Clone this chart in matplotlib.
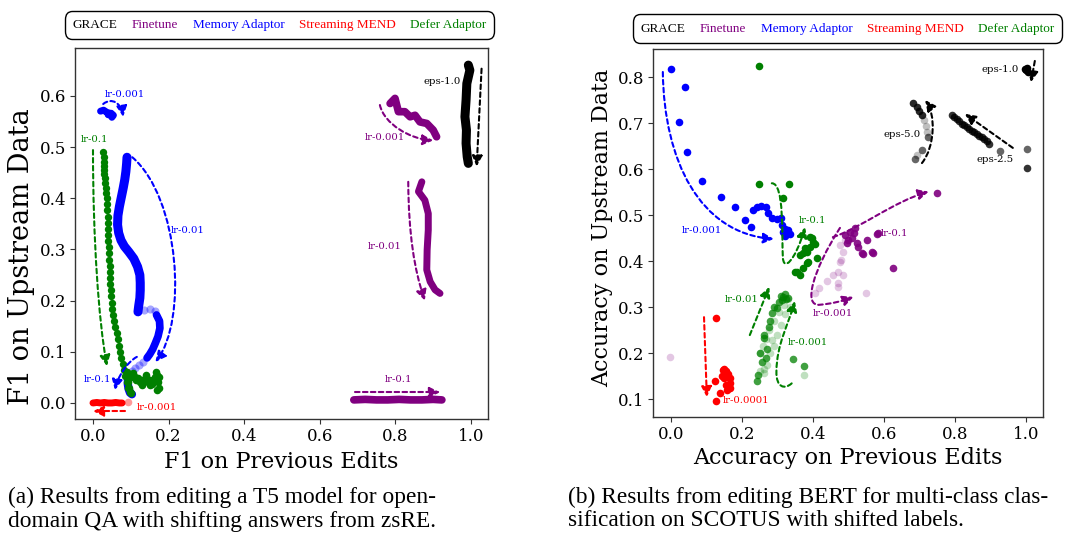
import matplotlib
matplotlib.use("Agg")
import matplotlib.pyplot as plt
from matplotlib.lines import Line2D
from matplotlib.patches import FancyArrowPatch
from matplotlib.path import Path

plt.rcParams['font.family'] = ['DejaVu Serif']

# ---------------- colours ----------------
C_GRACE, C_FT, C_MEM, C_MEND, C_DEF = 'black', '#800080', '#0000ff', '#ff0000', '#008000'
legend_labels = ['GRACE', 'Finetune', 'Memory Adaptor', 'Streaming MEND', 'Defer Adaptor']
legend_colors = [C_GRACE, C_FT, C_MEM, C_MEND, C_DEF]

# ================= (a) T5 / zsRE =================
# GRACE eps-1.0
a_grace_x = [0.993, 0.997, 0.989, 0.987, 0.984, 0.988, 0.987, 0.990, 0.993]
a_grace_y = [0.660, 0.650, 0.624, 0.592, 0.559, 0.533, 0.507, 0.481, 0.468]
# Finetune
a_ft001_x = [0.786, 0.799, 0.808, 0.825, 0.839, 0.852, 0.865, 0.883, 0.900, 0.909]
a_ft001_y = [0.585, 0.595, 0.569, 0.569, 0.559, 0.562, 0.549, 0.546, 0.533, 0.520]
a_ft01_x = [0.870, 0.861, 0.878, 0.887, 0.887, 0.884, 0.883, 0.892, 0.905, 0.918]
a_ft01_y = [0.432, 0.413, 0.396, 0.370, 0.338, 0.299, 0.260, 0.237, 0.221, 0.214]
a_ft1_x = [0.690, 0.720, 0.750, 0.780, 0.810, 0.840, 0.870, 0.900, 0.923]
a_ft1_y = [0.006, 0.007, 0.006, 0.006, 0.007, 0.006, 0.006, 0.007, 0.006]
# Memory Adaptor
a_mem001_x = [0.020, 0.028, 0.036, 0.044, 0.050, 0.054, 0.048, 0.040]
a_mem001_y = [0.570, 0.572, 0.568, 0.566, 0.558, 0.562, 0.566, 0.563]
a_mem01_upper_x = [0.090, 0.089, 0.087, 0.084, 0.080, 0.075, 0.070, 0.066, 0.065, 0.068, 0.074,
                   0.083, 0.095, 0.108, 0.118, 0.124, 0.125, 0.125, 0.124, 0.121, 0.119]
a_mem01_upper_y = [0.480, 0.468, 0.452, 0.436, 0.420, 0.402, 0.384, 0.366, 0.348, 0.332, 0.318,
                   0.306, 0.295, 0.282, 0.266, 0.250, 0.235, 0.220, 0.205, 0.190, 0.178]
a_mem01_lower_x = [0.168, 0.176, 0.177, 0.172, 0.165, 0.158, 0.150, 0.143]
a_mem01_lower_y = [0.172, 0.160, 0.146, 0.130, 0.117, 0.105, 0.095, 0.088]
a_mem01_faint_x = [0.135, 0.150, 0.163, 0.131, 0.121, 0.111, 0.103]
a_mem01_faint_y = [0.182, 0.183, 0.180, 0.080, 0.074, 0.068, 0.062]
a_mem1_x = [0.093, 0.092, 0.094, 0.098, 0.103]
a_mem1_y = [0.048, 0.038, 0.028, 0.020, 0.017]
# Streaming MEND
a_mend_x = [0.000, 0.010, 0.020, 0.030, 0.040, 0.050, 0.060, 0.070, 0.077]
a_mend_y = [0.000, 0.001, 0.000, 0.001, 0.000, 0.000, 0.001, 0.000, 0.000]
a_mend_faint_x = [0.093]
a_mend_faint_y = [0.002]
# Defer Adaptor
a_def1_x = [0.027, 0.028, 0.029, 0.029, 0.030, 0.030, 0.031, 0.033, 0.034, 0.035, 0.036, 0.037, 0.038, 0.039,
            0.039, 0.040, 0.040, 0.041, 0.042, 0.042, 0.043, 0.044, 0.045, 0.045, 0.046, 0.047, 0.048, 0.049,
            0.051, 0.053, 0.056, 0.059, 0.063, 0.066, 0.069, 0.072, 0.075, 0.079, 0.082, 0.085, 0.089, 0.092]
a_def1_y = [0.490, 0.480, 0.470, 0.462, 0.455, 0.448, 0.440, 0.430, 0.420, 0.410, 0.400, 0.388, 0.376, 0.364,
            0.352, 0.340, 0.328, 0.316, 0.304, 0.292, 0.280, 0.268, 0.256, 0.244, 0.232, 0.220, 0.208, 0.196,
            0.184, 0.172, 0.160, 0.148, 0.136, 0.124, 0.112, 0.100, 0.088, 0.076, 0.064, 0.052, 0.040, 0.030]
a_def01_x = [0.090, 0.095, 0.100, 0.105, 0.110, 0.115, 0.120, 0.125, 0.130, 0.135, 0.140, 0.145, 0.150, 0.155,
             0.160, 0.165, 0.170, 0.172, 0.175, 0.170, 0.095, 0.098, 0.092, 0.100, 0.130, 0.140, 0.150, 0.175, 0.168]
a_def01_y = [0.060, 0.055, 0.050, 0.058, 0.050, 0.045, 0.048, 0.040, 0.045, 0.042, 0.050, 0.040, 0.045, 0.038,
             0.044, 0.050, 0.055, 0.040, 0.030, 0.025, 0.030, 0.022, 0.040, 0.020, 0.035, 0.055, 0.035, 0.050, 0.060]

# ================= (b) BERT / SCOTUS =================
b_eps1_x = [1.000, 1.003, 1.005, 0.998]
b_eps1_y = [0.815, 0.820, 0.812, 0.818]
b_eps5_dark_x = [0.683, 0.692, 0.700, 0.706]
b_eps5_dark_y = [0.743, 0.735, 0.727, 0.717]
b_eps5_mid_x = [0.725, 0.706, 0.687]
b_eps5_mid_y = [0.670, 0.641, 0.621]
b_eps5_faint_x = [0.713, 0.718, 0.720, 0.692]
b_eps5_faint_y = [0.707, 0.693, 0.681, 0.630]
b_eps25_x = [0.791, 0.798, 0.805, 0.812, 0.819, 0.826, 0.833, 0.840, 0.847, 0.854, 0.861, 0.868,
             0.875, 0.882, 0.889, 0.897, 1.002]
b_eps25_y = [0.717, 0.713, 0.708, 0.704, 0.699, 0.695, 0.691, 0.687, 0.683, 0.680, 0.676, 0.672,
             0.669, 0.665, 0.662, 0.654, 0.603]
b_eps25_mid_x = [0.927, 1.002]
b_eps25_mid_y = [0.640, 0.643]

b_mem_x = [0.000, 0.039, 0.023, 0.045, 0.087, 0.141, 0.180, 0.208, 0.225, 0.231, 0.242, 0.253,
           0.268, 0.273, 0.284, 0.298, 0.310, 0.313, 0.316, 0.327, 0.321, 0.330, 0.320, 0.335]
b_mem_y = [0.817, 0.778, 0.702, 0.637, 0.574, 0.539, 0.517, 0.489, 0.474, 0.511, 0.518, 0.520,
           0.518, 0.504, 0.493, 0.491, 0.493, 0.478, 0.463, 0.461, 0.454, 0.467, 0.470, 0.458]

b_def1_x = [0.248, 0.248, 0.332, 0.316, 0.396, 0.406, 0.392, 0.382, 0.373, 0.363, 0.410, 0.382,
            0.373, 0.354, 0.363, 0.387, 0.392, 0.400, 0.349, 0.378]
b_def1_y = [0.824, 0.567, 0.567, 0.537, 0.449, 0.438, 0.431, 0.420, 0.417, 0.413, 0.406, 0.395,
            0.384, 0.377, 0.370, 0.398, 0.452, 0.442, 0.376, 0.428]
b_def01_x = [0.242, 0.245, 0.255, 0.262, 0.268, 0.270, 0.276, 0.280, 0.284, 0.290, 0.298, 0.305,
             0.313, 0.316, 0.320, 0.325, 0.310, 0.330, 0.344, 0.375, 0.262, 0.250]
b_def01_y = [0.139, 0.152, 0.180, 0.233, 0.189, 0.209, 0.256, 0.270, 0.287, 0.300, 0.298, 0.310,
             0.315, 0.322, 0.328, 0.318, 0.325, 0.320, 0.187, 0.172, 0.240, 0.200]
b_def001_x = [0.250, 0.262, 0.270, 0.280, 0.290, 0.300, 0.310, 0.322, 0.335, 0.268, 0.258, 0.275,
              0.290, 0.305, 0.318, 0.330, 0.375, 0.262, 0.250, 0.285]
b_def001_y = [0.160, 0.157, 0.175, 0.200, 0.215, 0.240, 0.260, 0.285, 0.300, 0.230, 0.215, 0.250,
              0.270, 0.290, 0.305, 0.318, 0.152, 0.165, 0.200, 0.228]

b_mend_x = [0.127, 0.146, 0.150, 0.155, 0.160, 0.161, 0.166, 0.150, 0.155, 0.165, 0.145, 0.124,
            0.138, 0.127, 0.158, 0.165]
b_mend_y = [0.276, 0.163, 0.165, 0.160, 0.155, 0.148, 0.135, 0.145, 0.130, 0.125, 0.150, 0.140,
            0.113, 0.096, 0.120, 0.145]

b_ft1_x = [0.518, 0.504, 0.490, 0.496, 0.524, 0.527, 0.552, 0.538, 0.566, 0.625, 0.580, 0.510,
           0.500, 0.515, 0.541, 0.569, 0.749, 0.583]
b_ft1_y = [0.472, 0.463, 0.457, 0.439, 0.439, 0.431, 0.446, 0.417, 0.420, 0.385, 0.459, 0.450,
           0.445, 0.460, 0.416, 0.418, 0.548, 0.461]
b_ft001_x = [0.476, 0.485, 0.476, 0.470, 0.457, 0.485, 0.470, 0.439, 0.417, 0.406, 0.470, 0.549,
             -0.003, 0.480, 0.490]
b_ft001_y = [0.435, 0.420, 0.398, 0.376, 0.370, 0.370, 0.352, 0.357, 0.341, 0.330, 0.344, 0.330,
             0.191, 0.402, 0.445]

# annotation labels: (text, colour, x, y)
a_labels = [('lr-0.001', C_MEM, 0.085, 0.602), ('lr-0.1', C_DEF, 0.003, 0.515),
            ('lr-0.01', C_MEM, 0.250, 0.336), ('lr-0.1', C_MEM, 0.013, 0.045),
            ('lr-0.001', C_MEND, 0.170, -0.008), ('lr-0.001', C_FT, 0.772, 0.518),
            ('lr-0.01', C_FT, 0.772, 0.305), ('lr-0.1', C_FT, 0.807, 0.045),
            ('eps-1.0', C_GRACE, 0.923, 0.627)]
b_labels = [('lr-0.001', C_MEM, 0.087, 0.467), ('lr-0.1', C_DEF, 0.400, 0.489),
            ('lr-0.01', C_DEF, 0.200, 0.317), ('lr-0.001', C_DEF, 0.386, 0.222),
            ('lr-0.0001', C_MEND, 0.211, 0.096), ('lr-0.001', C_FT, 0.457, 0.287),
            ('lr-0.1', C_FT, 0.630, 0.460), ('eps-1.0', C_GRACE, 0.927, 0.817),
            ('eps-5.0', C_GRACE, 0.650, 0.676), ('eps-2.5', C_GRACE, 0.913, 0.620)]

# dashed arrows: (colour, control points)  2 pts = straight, 4 = cubic, 7 = two cubics
a_arrows = [(C_MEM, [(0.027, 0.584), (0.050, 0.598), (0.075, 0.585), (0.080, 0.559)]),
            (C_DEF, [(0.000, 0.494), (0.000, 0.320), (0.015, 0.160), (0.037, 0.072)]),
            (C_MEM, [(0.104, 0.480), (0.230, 0.400), (0.250, 0.160), (0.165, 0.080)]),
            (C_MEM, [(0.116, 0.090), (0.090, 0.080), (0.065, 0.050), (0.058, 0.025)]),
            (C_MEND, [(0.085, -0.016), (0.000, -0.016)]),
            (C_FT, [(0.759, 0.582), (0.770, 0.545), (0.840, 0.515), (0.900, 0.513)]),
            (C_FT, [(0.834, 0.432), (0.835, 0.330), (0.850, 0.260), (0.878, 0.200)]),
            (C_FT, [(0.693, 0.021), (0.918, 0.021)]),
            (C_GRACE, [(1.028, 0.653), (1.015, 0.462)])]
b_arrows = [(C_MEM, [(-0.023, 0.811), (-0.020, 0.620), (0.080, 0.460), (0.290, 0.448)]),
            (C_DEF, [(0.284, 0.569), (0.320, 0.570), (0.312, 0.450), (0.315, 0.410),
                     (0.316, 0.375), (0.350, 0.400), (0.378, 0.474)]),
            (C_DEF, [(0.222, 0.239), (0.277, 0.344)]),
            (C_DEF, [(0.340, 0.134), (0.320, 0.120), (0.296, 0.125), (0.297, 0.160),
                     (0.298, 0.220), (0.330, 0.260), (0.349, 0.313)]),
            (C_MEND, [(0.093, 0.278), (0.101, 0.104)]),
            (C_FT, [(0.476, 0.472), (0.400, 0.380), (0.370, 0.300), (0.420, 0.305),
                    (0.450, 0.307), (0.480, 0.312), (0.514, 0.322)]),
            (C_FT, [(0.456, 0.452), (0.530, 0.470), (0.630, 0.530), (0.726, 0.551)]),
            (C_GRACE, [(1.025, 0.835), (1.014, 0.789)]),
            (C_GRACE, [(0.707, 0.613), (0.745, 0.650), (0.745, 0.720), (0.716, 0.750)]),
            (C_GRACE, [(0.963, 0.646), (0.828, 0.720)])]

# ---------------- figure ----------------
W, H = 1071, 533
fig = plt.figure(figsize=(W / 100, H / 100), dpi=100)
axL = fig.add_axes([75 / W, (H - 419) / H, 413 / W, 371 / H])
axR = fig.add_axes([653 / W, (H - 417) / H, 390 / W, 368 / H])


def trail(ax, xs, ys, color, lw, alpha=1.0):
    ax.plot(xs, ys, '-', color=color, lw=lw, alpha=alpha, solid_capstyle='round',
            solid_joinstyle='round', zorder=2)


def dots(ax, xs, ys, color, alpha=1.0, s=26):
    ax.scatter(xs, ys, s=s, color=color, alpha=alpha, linewidths=0, zorder=2)


def dashed_arrow(ax, color, pts):
    if len(pts) == 2:
        codes = [Path.MOVETO, Path.LINETO]
    else:
        codes = [Path.MOVETO] + [Path.CURVE4] * (len(pts) - 1)
    patch = FancyArrowPatch(path=Path(pts, codes), arrowstyle='-|>,head_length=0.45,head_width=0.22',
                            mutation_scale=14, color=color, lw=1.5, linestyle=(0, (2.2, 1.6)),
                            transform=ax.transData, zorder=3)
    ax.add_patch(patch)


# ---- panel (a)
trail(axL, a_grace_x, a_grace_y, C_GRACE, 6.5)
trail(axL, a_ft001_x, a_ft001_y, C_FT, 5.5)
trail(axL, a_ft01_x, a_ft01_y, C_FT, 5.0)
trail(axL, a_ft1_x, a_ft1_y, C_FT, 5.5)
trail(axL, a_mem001_x, a_mem001_y, C_MEM, 5.0)
trail(axL, a_mem01_upper_x, a_mem01_upper_y, C_MEM, 6.5)
trail(axL, a_mem01_lower_x, a_mem01_lower_y, C_MEM, 5.5)
dots(axL, a_mem01_faint_x, a_mem01_faint_y, C_MEM, alpha=0.35, s=34)
trail(axL, a_mem1_x, a_mem1_y, C_MEM, 6.0)
trail(axL, a_mend_x, a_mend_y, C_MEND, 5.0)
dots(axL, a_mend_faint_x, a_mend_faint_y, C_MEND, alpha=0.4, s=30)
dots(axL, a_def1_x, a_def1_y, C_DEF, s=28)
dots(axL, a_def01_x, a_def01_y, C_DEF, s=30)

for txt, c, x, y in a_labels:
    axL.text(x, y, txt, color=c, fontsize=7.3, ha='center', va='center', zorder=4)
for c, pts in a_arrows:
    dashed_arrow(axL, c, pts)

axL.set_xlim(-0.0476, 1.045)
axL.set_ylim(-0.0313, 0.6934)
axL.set_xticks([0.0, 0.2, 0.4, 0.6, 0.8, 1.0])
axL.set_yticks([0.0, 0.1, 0.2, 0.3, 0.4, 0.5, 0.6])

# ---- panel (b)
dots(axR, b_ft001_x, b_ft001_y, C_FT, alpha=0.22, s=30)
dots(axR, b_ft1_x, b_ft1_y, C_FT, alpha=0.9, s=30)
dots(axR, b_def001_x, b_def001_y, C_DEF, alpha=0.25, s=30)
dots(axR, b_def01_x, b_def01_y, C_DEF, alpha=0.75, s=30)
dots(axR, b_def1_x, b_def1_y, C_DEF, alpha=1.0, s=30)
dots(axR, b_mem_x, b_mem_y, C_MEM, s=30)
dots(axR, b_mend_x, b_mend_y, C_MEND, s=30)
dots(axR, b_eps1_x, b_eps1_y, C_GRACE, s=30)
dots(axR, b_eps5_dark_x, b_eps5_dark_y, C_GRACE, alpha=0.85, s=30)
dots(axR, b_eps5_mid_x, b_eps5_mid_y, C_GRACE, alpha=0.6, s=30)
dots(axR, b_eps5_faint_x, b_eps5_faint_y, C_GRACE, alpha=0.25, s=30)
dots(axR, b_eps25_x, b_eps25_y, C_GRACE, alpha=0.8, s=30)
dots(axR, b_eps25_mid_x, b_eps25_mid_y, C_GRACE, alpha=0.6, s=30)

for txt, c, x, y in b_labels:
    axR.text(x, y, txt, color=c, fontsize=7.3, ha='center', va='center', zorder=4)
for c, pts in b_arrows:
    dashed_arrow(axR, c, pts)

axR.set_xlim(-0.0507, 1.048)
axR.set_ylim(0.0609, 0.861)
axR.set_xticks([0.0, 0.2, 0.4, 0.6, 0.8, 1.0])
axR.set_yticks([0.1, 0.2, 0.3, 0.4, 0.5, 0.6, 0.7, 0.8])

for ax in (axL, axR):
    for sp in ax.spines.values():
        sp.set_color('#333333')
        sp.set_linewidth(1.0)
    ax.tick_params(labelsize=12, length=3.5, width=0.8, color='#333333', pad=3)
    ax.xaxis.set_major_formatter(matplotlib.ticker.FormatStrFormatter('%.1f'))
    ax.yaxis.set_major_formatter(matplotlib.ticker.FormatStrFormatter('%.1f'))

# axis titles
fig.text(22 / W, 1 - 257 / H, 'F1 on Upstream Data', rotation=90, ha='center', va='center', fontsize=19.5)
fig.text(281 / W, 1 - 462 / H, 'F1 on Previous Edits', ha='center', va='center', fontsize=16)
fig.text(602 / W, 1 - 228 / H, 'Accuracy on Upstream Data', rotation=90, ha='center', va='center', fontsize=16)
fig.text(848 / W, 1 - 458 / H, 'Accuracy on Previous Edits', ha='center', va='center', fontsize=16)

# legends
handles = [Line2D([], [], linestyle='none') for _ in legend_labels]
for cx, cy in ((279.5, 25.0), (847.5, 28.5)):
    leg = fig.legend(handles, legend_labels, loc='center', bbox_to_anchor=(cx / W, 1 - cy / H),
                     ncol=5, handlelength=0, handletextpad=0, columnspacing=1.1, borderpad=0.6,
                     frameon=True, fancybox=True, framealpha=1,
                     prop={'family': 'Liberation Serif', 'size': 9.5}, labelcolor=legend_colors)
    fr = leg.get_frame()
    fr.set_edgecolor('black')
    fr.set_linewidth(1.0)
    fr.set_boxstyle('round,pad=0,rounding_size=0.6')

# captions
cap = dict(family='Liberation Serif', fontsize=16.8, ha='left', va='center')
fig.text(8 / W, 1 - 497 / H, '(a) Results from editing a T5 model for open-', **cap)
fig.text(8 / W, 1 - 521 / H, 'domain QA with shifting answers from zsRE.', **cap)
fig.text(568 / W, 1 - 497 / H, '(b) Results from editing BERT for multi-class clas-', **cap)
fig.text(568 / W, 1 - 521 / H, 'sification on SCOTUS with shifted labels.', **cap)

fig.savefig('out.png', dpi=100)
